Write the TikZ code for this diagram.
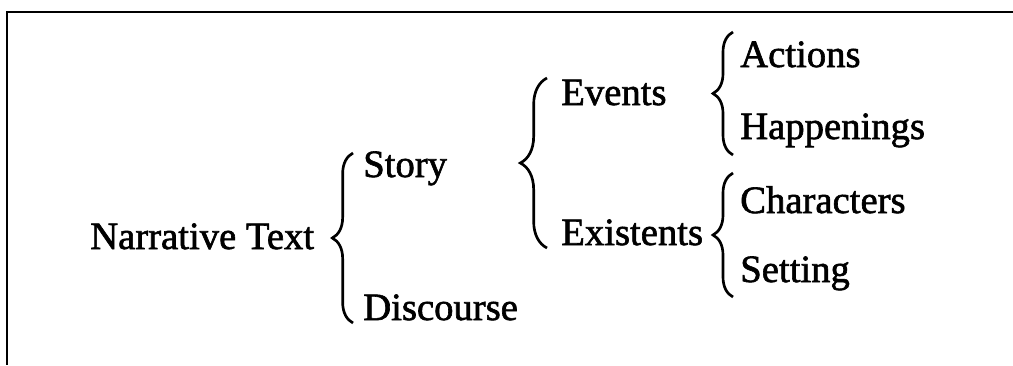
\documentclass[tikz,border=0pt]{standalone}
\usepackage{fontspec}
\setmainfont{Liberation Serif}
\newfontfamily\termfont[FakeBold=1.6]{Liberation Serif}
\usetikzlibrary{decorations.pathreplacing}

\tikzset{
  term/.style={anchor=base west, inner sep=0pt, font=\termfont\fontsize{29}{32}\selectfont},
  curly/.style={decorate, decoration={brace, amplitude=#1}, line width=2pt}
}

\begin{document}
\begin{tikzpicture}[x=0.75pt, y=-0.75pt]
\useasboundingbox (0,0) rectangle (1013,365);

% Frame
\draw[line width=1.6pt] (1013,12) -- (7,12) -- (7,365);

% Terms
\node[term] (narr) at (90,249) {Narrative Text};
\node[term] (story) at (363,177) {Story};
\node[term] (disc) at (363,320) {Discourse};
\node[term] (events) at (561,105) {Events};
\node[term] (exist) at (561,245) {Existents};
\node[term] (actions) at (740,67) {Actions};
\node[term] (happen) at (740,139) {Happenings};
\node[term] (chars) at (740,213) {Characters};
\node[term] (setting) at (740,282) {Setting};

% Braces
\draw[curly=15.5pt] ([shift={(-10,3)}]disc.base west) -- ([shift={(-10,-24)}]story.base west);
\draw[curly=20pt] ([shift={(-14,3)}]exist.base west) -- ([shift={(-14,-27)}]events.base west);
\draw[curly=15pt] ([shift={(-7,16)}]happen.base west) -- ([shift={(-7,-35)}]actions.base west);
\draw[curly=15pt] ([shift={(-7,15)}]setting.base west) -- ([shift={(-7,-40)}]chars.base west);
\end{tikzpicture}
\end{document}
